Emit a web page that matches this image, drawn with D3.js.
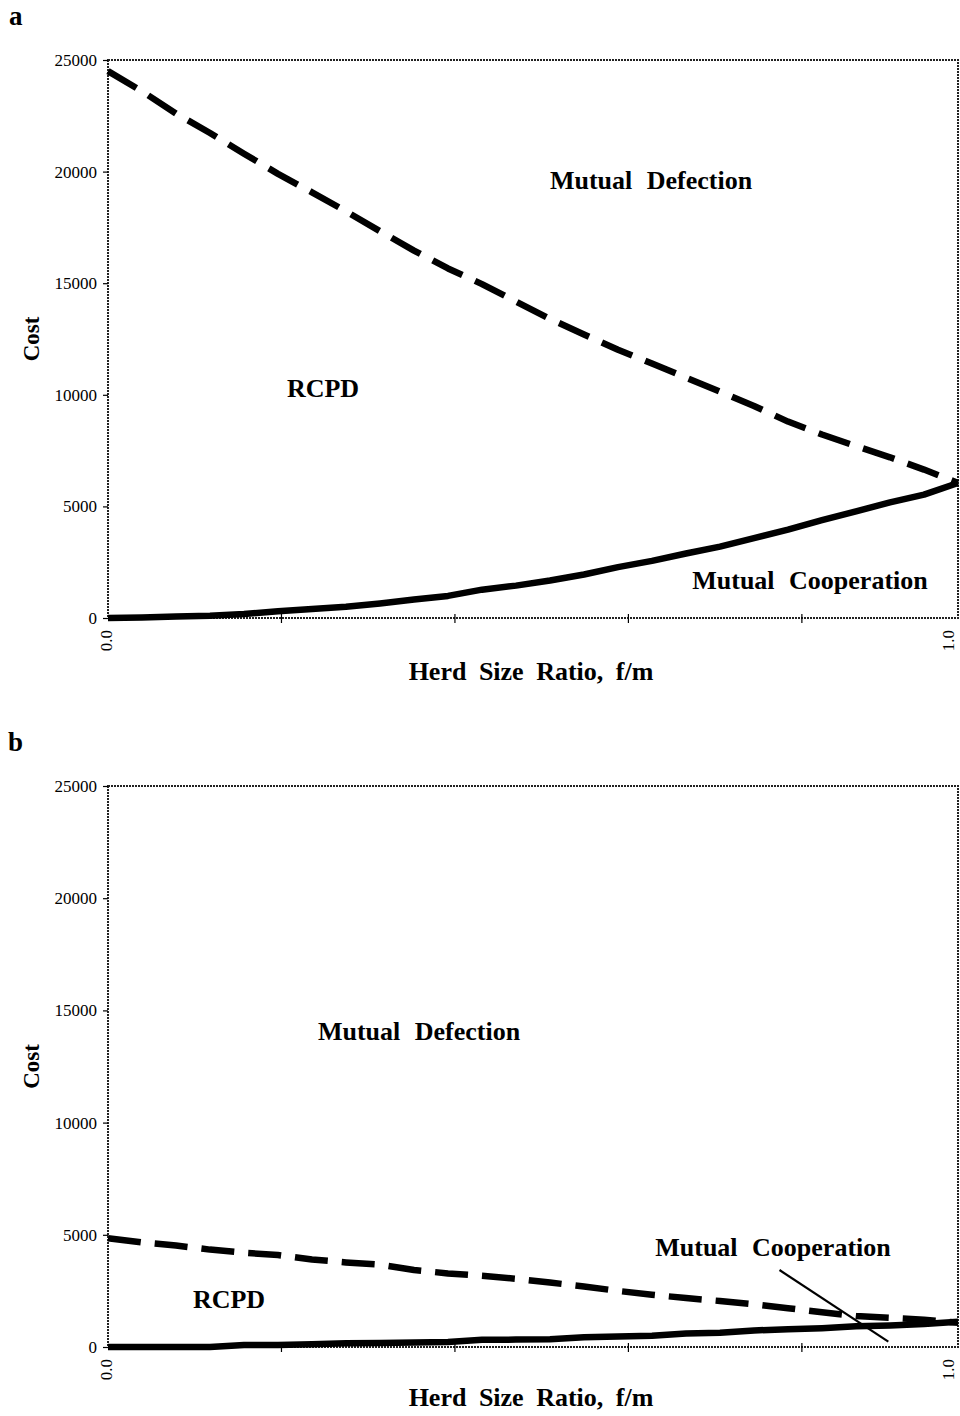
<!DOCTYPE html>
<html>
<head>
<meta charset="utf-8">
<script src="https://cdn.jsdelivr.net/npm/d3@7"></script>
<style>
  html, body { margin: 0; padding: 0; background: #fff; }
  svg { display: block; }
  text { font-family: "Liberation Serif", "Times New Roman", Times, serif; fill: #000; }
</style>
</head>
<body>
<svg id="chart" width="960" height="1416"></svg>
<script>
// ---------------- DATA ----------------
const herdRatio = [0.00, 0.04, 0.08, 0.12, 0.16, 0.20, 0.24, 0.28, 0.32, 0.36, 0.40, 0.44, 0.48,
                   0.52, 0.56, 0.60, 0.64, 0.68, 0.72, 0.76, 0.80, 0.84, 0.88, 0.92, 0.96, 1.00];

// Panel a
const defectionA = [24500, 23600, 22600, 21730, 20800, 19900, 19070, 18220, 17330, 16460, 15660, 14960, 14180,
                    13400, 12700, 12020, 11400, 10770, 10140, 9500, 8800, 8220, 7700, 7200, 6650, 6050];
const cooperationA = [0, 20, 70, 100, 180, 300, 400, 500, 650, 830, 990, 1270, 1450,
                      1680, 1950, 2280, 2560, 2890, 3200, 3580, 3960, 4380, 4780, 5180, 5530, 6050];

// Panel b
const defectionB = [4850, 4660, 4520, 4340, 4200, 4100, 3900, 3770, 3670, 3430, 3280, 3170, 3040,
                    2870, 2700, 2500, 2330, 2180, 2050, 1900, 1730, 1550, 1380, 1300, 1220, 1080];
const cooperationB = [0, 0, 0, 0, 90, 90, 120, 170, 180, 200, 220, 320, 330,
                      350, 430, 470, 500, 600, 630, 740, 790, 840, 920, 960, 1020, 1120];

// Callout line in panel b (herd ratio, cost)
const calloutB = [[0.79, 3430], [0.918, 240]];

// Axes
const costTicks = [0, 5000, 10000, 15000, 20000, 25000];
const costDomain = [0, 25000];
const categoryCount = 50;                       // categories along the x axis
const xTickCategories = [0, 10, 20, 30, 40, 49]; // tick every 10 categories
const xTickLabels = ["0.0", "", "", "", "", "1.0"];

const panelLetters = ["a", "b"];
const regionLabelsA = ["Mutual Defection", "RCPD", "Mutual Cooperation"];
const regionLabelsB = ["Mutual Defection", "RCPD", "Mutual Cooperation"];
const xTitle = "Herd Size Ratio, f/m";
const yTitle = "Cost";

// ---------------- LAYOUT ----------------
const svg = d3.select("#chart");
const left = 108, right = 958;

const panels = [
  { letter: panelLetters[0], top: 60, bottom: 618, defect: defectionA, coop: cooperationA,
    labels: [
      { t: regionLabelsA[0], x: 651, y: 189 },
      { t: regionLabelsA[1], x: 323, y: 397 },
      { t: regionLabelsA[2], x: 810, y: 589 }
    ],
    letterPos: [9, 25], xTitleY: 680, callout: null },
  { letter: panelLetters[1], top: 786, bottom: 1347, defect: defectionB, coop: cooperationB,
    labels: [
      { t: regionLabelsB[0], x: 419, y: 1040 },
      { t: regionLabelsB[1], x: 229, y: 1308 },
      { t: regionLabelsB[2], x: 773, y: 1256 }
    ],
    letterPos: [8, 751], xTitleY: 1406, callout: calloutB }
];

const serif = "'Liberation Serif', 'Times New Roman', Times, serif";

panels.forEach(p => {
  const x = d3.scaleLinear().domain([0, 1]).range([left, right]);
  const y = d3.scaleLinear().domain(costDomain).range([p.bottom, p.top]);
  const g = svg.append("g");

  // frame (dotted, like the scanned Excel frame)
  g.append("rect")
    .attr("x", left).attr("y", p.top)
    .attr("width", right - left).attr("height", p.bottom - p.top)
    .attr("fill", "none").attr("stroke", "#222").attr("stroke-width", 2)
    .attr("stroke-dasharray", "2,1");

  // y axis ticks + labels
  const yAxis = d3.axisLeft(y).tickValues(costTicks).tickSize(5).tickFormat(d3.format("d"));
  const ya = g.append("g").attr("transform", `translate(${left},0)`).call(yAxis);
  ya.select(".domain").remove();
  ya.selectAll(".tick line").attr("stroke", "#000").attr("stroke-width", 1.2);
  ya.selectAll(".tick text")
    .attr("x", -11)
    .style("font-family", serif).style("font-size", "17px").attr("fill", "#000");

  // x axis ticks (crossing the axis) + rotated labels
  const xCat = d3.scaleLinear().domain([0, categoryCount - 1]).range([left, right]);
  const xt = g.append("g");
  xt.selectAll("line").data(xTickCategories.slice(1, -1)).join("line")
    .attr("x1", d => xCat(d)).attr("x2", d => xCat(d))
    .attr("y1", p.bottom - 4).attr("y2", p.bottom + 5)
    .attr("stroke", "#000").attr("stroke-width", 1.2);
  xt.selectAll("text").data(xTickCategories.map((c, i) => ({ c, l: xTickLabels[i] })).filter(d => d.l))
    .join("text")
    .attr("transform", d => `translate(${Math.min(xCat(d.c) + 4, 954)},${p.bottom + 12}) rotate(-90)`)
    .attr("text-anchor", "end")
    .style("font-size", "17px")
    .text(d => d.l);

  // lines
  const line = d3.line().x((d, i) => x(herdRatio[i])).y(d => y(d));
  g.append("path").datum(p.defect)
    .attr("d", line).attr("fill", "none").attr("stroke", "#000")
    .attr("stroke-width", 6.5).attr("stroke-dasharray", "33,14")
    .attr("stroke-linejoin", "round");
  g.append("path").datum(p.coop)
    .attr("d", line).attr("fill", "none").attr("stroke", "#000")
    .attr("stroke-width", 6.5).attr("stroke-linejoin", "round").attr("stroke-linecap", "butt");

  // callout
  if (p.callout) {
    g.append("line")
      .attr("x1", x(p.callout[0][0])).attr("y1", y(p.callout[0][1]))
      .attr("x2", x(p.callout[1][0])).attr("y2", y(p.callout[1][1]))
      .attr("stroke", "#000").attr("stroke-width", 2.2);
  }

  // region labels
  g.selectAll("text.region").data(p.labels).join("text")
    .attr("class", "region")
    .attr("x", d => d.x).attr("y", d => d.y)
    .attr("text-anchor", "middle")
    .style("font-size", "26px").style("font-weight", "bold").style("word-spacing", "8px")
    .text(d => d.t);

  // axis titles
  g.append("text")
    .attr("x", (left + right) / 2 - 2).attr("y", p.xTitleY)
    .attr("text-anchor", "middle")
    .style("font-size", "26px").style("font-weight", "bold").style("word-spacing", "6px")
    .text(xTitle);
  g.append("text")
    .attr("transform", `translate(39,${(p.top + p.bottom) / 2}) rotate(-90)`)
    .attr("text-anchor", "middle")
    .style("font-size", "23px").style("font-weight", "bold")
    .text(yTitle);

  // panel letter
  g.append("text")
    .attr("x", p.letterPos[0]).attr("y", p.letterPos[1])
    .style("font-size", "27px").style("font-weight", "bold")
    .text(p.letter);
});
</script>
</body>
</html>
